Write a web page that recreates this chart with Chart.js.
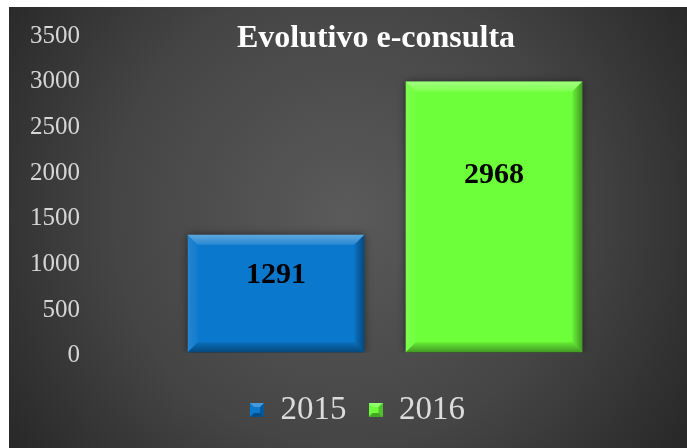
<!DOCTYPE html>
<html lang="pt-BR">
<head>
    <meta charset="UTF-8">
    <title>Evolutivo e-consulta</title>
    <script src="https://cdn.jsdelivr.net/npm/chart.js"></script>
    <style>
        html, body { margin: 0; padding: 0; background: #fff; }
        #wrap { width: 687px; height: 448px; }
    </style>
</head>
<body>
    <div id="wrap"><canvas id="evolutivoChart" width="687" height="448"></canvas></div>
    <script>
        // Dados
        const anos = ['2015', '2016'];
        const consultas = [1291, 2968];
        const coresBarras = ['#0a78cc', '#6dff3a'];
        const ticksY = [0, 500, 1000, 1500, 2000, 2500, 3000, 3500];
        const titulo = 'Evolutivo e-consulta';

        const serif = '"Liberation Serif", "DejaVu Serif", serif';

        // Fundo escuro com gradiente radial
        const fundo = {
            id: 'fundo',
            beforeDraw(chart) {
                const ctx = chart.ctx;
                const w = chart.width, h = chart.height;
                ctx.save();
                ctx.fillStyle = '#ffffff';
                ctx.fillRect(0, 0, w, h);
                const g = ctx.createRadialGradient(345, 215, 0, 345, 215, 420);
                g.addColorStop(0, '#5a5a5a');
                g.addColorStop(0.55, '#454545');
                g.addColorStop(1, '#262626');
                ctx.fillStyle = g;
                ctx.fillRect(9, 7, w - 9, h - 7);
                ctx.restore();
            }
        };

        // Sombra + efeito bisel nas barras
        const bisel = {
            id: 'bisel',
            beforeDatasetsDraw(chart) {
                const ctx = chart.ctx;
                ctx.save();
                ctx.shadowColor = 'rgba(0,0,0,0.55)';
                ctx.shadowBlur = 8;
            },
            afterDatasetsDraw(chart) {
                const ctx = chart.ctx;
                ctx.restore();
                const b = 10;
                chart.getDatasetMeta(0).data.forEach(bar => {
                    const l = bar.x - bar.width / 2, r = bar.x + bar.width / 2;
                    const t = bar.y, bo = bar.base;
                    const poly = (pts, fill) => {
                        ctx.beginPath();
                        ctx.moveTo(pts[0][0], pts[0][1]);
                        for (let i = 1; i < pts.length; i++) ctx.lineTo(pts[i][0], pts[i][1]);
                        ctx.closePath();
                        ctx.fillStyle = fill;
                        ctx.fill();
                    };
                    ctx.save();
                    let g = ctx.createLinearGradient(0, t, 0, t + b);
                    g.addColorStop(0, 'rgba(255,255,255,0.35)');
                    g.addColorStop(1, 'rgba(255,255,255,0.12)');
                    poly([[l, t], [r, t], [r - b, t + b], [l + b, t + b]], g);
                    g = ctx.createLinearGradient(l, 0, l + b, 0);
                    g.addColorStop(0, 'rgba(255,255,255,0.10)');
                    g.addColorStop(1, 'rgba(255,255,255,0.03)');
                    poly([[l, t], [l + b, t + b], [l + b, bo - b], [l, bo]], g);
                    g = ctx.createLinearGradient(r - b, 0, r, 0);
                    g.addColorStop(0, 'rgba(0,0,0,0.05)');
                    g.addColorStop(1, 'rgba(0,0,0,0.40)');
                    poly([[r, t], [r, bo], [r - b, bo - b], [r - b, t + b]], g);
                    g = ctx.createLinearGradient(0, bo - b, 0, bo);
                    g.addColorStop(0, 'rgba(0,0,0,0.08)');
                    g.addColorStop(1, 'rgba(0,0,0,0.40)');
                    poly([[l, bo], [r, bo], [r - b, bo - b], [l + b, bo - b]], g);
                    ctx.restore();
                });
            }
        };

        // Rótulos de valor e título
        const rotulos = {
            id: 'rotulos',
            afterDraw(chart) {
                const ctx = chart.ctx;
                const yScale = chart.scales.y;
                ctx.save();
                ctx.textAlign = 'center';
                ctx.textBaseline = 'middle';
                ctx.fillStyle = '#000000';
                ctx.font = 'bold 30px ' + serif;
                chart.getDatasetMeta(0).data.forEach((bar, i) => {
                    const v = consultas[i];
                    ctx.fillText(String(v), bar.x, yScale.getPixelForValue(v * 0.655));
                });
                ctx.fillStyle = '#ffffff';
                ctx.font = 'bold 32px ' + serif;
                ctx.fillText(titulo, 376, 39);
                ctx.restore();
            }
        };

        // Quadradinhos da legenda com bisel
        function caixaLegenda(cor) {
            const c = document.createElement('canvas');
            c.width = 14; c.height = 14;
            const x = c.getContext('2d');
            x.fillStyle = cor;
            x.fillRect(0, 0, 14, 14);
            x.fillStyle = 'rgba(255,255,255,0.25)';
            x.beginPath(); x.moveTo(0, 0); x.lineTo(14, 0); x.lineTo(10, 4); x.lineTo(4, 4); x.fill();
            x.fillStyle = 'rgba(0,0,0,0.35)';
            x.beginPath(); x.moveTo(0, 14); x.lineTo(14, 14); x.lineTo(10, 10); x.lineTo(4, 10); x.fill();
            x.fillStyle = 'rgba(0,0,0,0.25)';
            x.beginPath(); x.moveTo(14, 0); x.lineTo(14, 14); x.lineTo(10, 10); x.lineTo(10, 4); x.fill();
            return c;
        }
        const caixas = coresBarras.map(caixaLegenda);

        const ctx = document.getElementById('evolutivoChart').getContext('2d');
        const evolutivoChart = new Chart(ctx, {
            type: 'bar',
            data: {
                labels: anos,
                datasets: [{
                    label: titulo,
                    data: consultas,
                    backgroundColor: coresBarras,
                    borderWidth: 0,
                    categoryPercentage: 1,
                    barPercentage: 0.81
                }]
            },
            options: {
                responsive: false,
                animation: false,
                layout: { padding: { left: 28, right: 0, top: 33, bottom: 11.5 } },
                scales: {
                    x: {
                        grid: { display: false, drawTicks: false },
                        border: { display: false },
                        ticks: { display: false },
                        afterFit(scale) { scale.height = 18.8; }
                    },
                    y: {
                        min: 0,
                        max: 3500,
                        afterBuildTicks(scale) { scale.ticks = ticksY.map(v => ({ value: v })); },
                        // marcas invisíveis só para afastar os rótulos da área do gráfico
                        grid: { display: true, drawOnChartArea: false, drawTicks: true, tickLength: 84, color: 'rgba(0,0,0,0)' },
                        border: { display: false },
                        ticks: {
                            color: '#d6d6d6',
                            padding: 3,
                            labelOffset: 3,
                            font: { family: serif, size: 25 },
                            callback: v => String(v)
                        },
                        afterFit(scale) { scale.width = 139; }
                    },
                    y2: {
                        position: 'right',
                        display: true,
                        grid: { display: false, drawTicks: false },
                        border: { display: false },
                        ticks: { display: false },
                        afterFit(scale) { scale.width = 84; }
                    }
                },
                plugins: {
                    title: { display: false },
                    tooltip: { enabled: false },
                    legend: {
                        position: 'bottom',
                        labels: {
                            color: '#dcdcdc',
                            boxWidth: 14,
                            boxHeight: 14,
                            padding: 22,
                            usePointStyle: true,
                            font: { family: serif, size: 33 },
                            generateLabels(chart) {
                                return chart.data.labels.map((l, i) => ({
                                    text: l,
                                    fillStyle: coresBarras[i],
                                    strokeStyle: coresBarras[i],
                                    lineWidth: 0,
                                    pointStyle: caixas[i],
                                    fontColor: '#dcdcdc',
                                    hidden: false,
                                    index: i
                                }));
                            }
                        }
                    }
                }
            },
            plugins: [fundo, bisel, rotulos]
        });
    </script>
</body>
</html>
